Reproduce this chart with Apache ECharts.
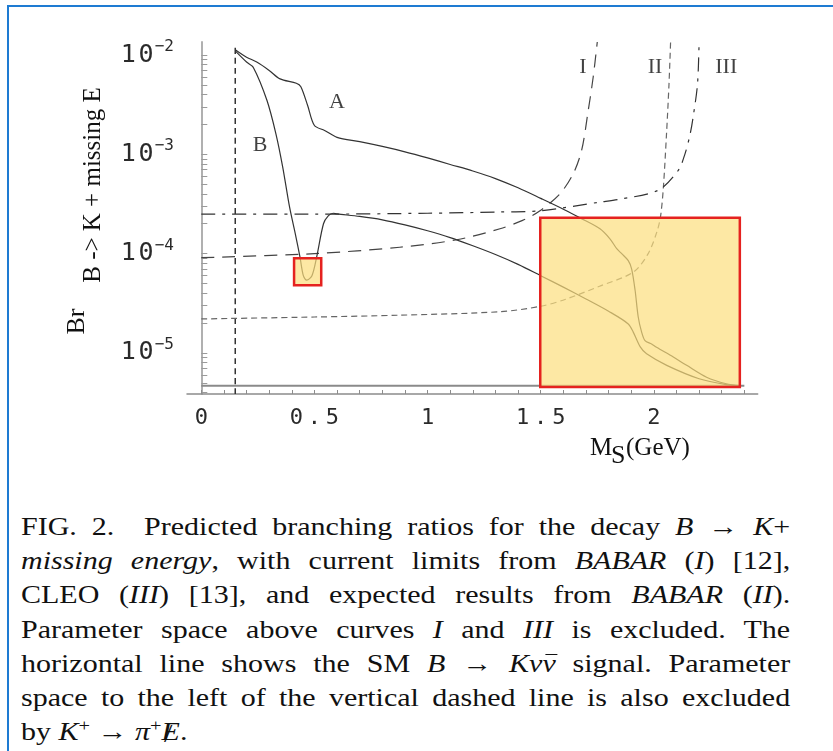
<!DOCTYPE html>
<html>
<head>
<meta charset="utf-8">
<title>B → K + missing E</title>
<script src="https://cdn.jsdelivr.net/npm/echarts@6/dist/echarts.min.js"></script>
<style>
  html, body { margin: 0; padding: 0; background: #fff; }
  #page { position: relative; width: 833px; height: 751px; overflow: hidden; }
  #frame { position: absolute; left: 7px; top: 5px; right: -10px; bottom: -10px;
    border-top: 2.5px solid #1e7bd2; border-left: 2.5px solid #1e7bd2; }
  #chart { position: absolute; left: 0; top: 0; width: 833px; height: 490px; }
  /* the printed caption font is wider than Times, so stretch it */
  #caption { position: absolute; left: 21px; top: 510px; width: 641px;
    transform: scaleX(1.2); transform-origin: 0 0;
    font-family: "Liberation Serif", "DejaVu Serif", serif; font-size: 25px;
    line-height: 34.2px; color: #111; }
  #caption div { text-align: justify; text-align-last: justify; }
  #caption div.last { text-align: left; text-align-last: left; }
  #caption sup { font-size: 17px; line-height: 0; }
  .slash { position: relative; }
  .slash b { position: absolute; left: 2px; top: -1px; font-weight: normal; font-style: normal; }
  .bar { display: inline-block; position: relative; }
  .bar i { position: absolute; left: 3px; right: -1px; top: 7px; height: 0;
    border-top: 1.4px solid #111; }
</style>
</head>
<body>
<div id="page">
  <div id="frame"></div>
  <div id="chart"></div>
  <div id="caption">
    <div>FIG. 2.&nbsp; Predicted branching ratios for the decay <i>B</i> → <i>K</i>+</div>
    <div><i>missing energy</i>, with current limits from <i>BABAR</i> (<i>I</i>) [12],</div>
    <div>CLEO (<i>III</i>) [13], and expected results from <i>BABAR</i> (<i>II</i>).</div>
    <div>Parameter space above curves <i>I</i> and <i>III</i> is excluded. The</div>
    <div>horizontal line shows the SM <i>B</i> → <i>Kν<span class="bar">ν<i></i></span></i> signal. Parameter</div>
    <div>space to the left of the vertical dashed line is also excluded</div>
    <div class="last">by <i>K</i><sup>+</sup> → <i>π</i><sup>+</sup><span class="slash"><i>E</i><b>/</b></span>.</div>
  </div>
</div>
<script>
// axis ranges (M_S in GeV, branching ratio on log scale)
const xMin = -0.0632, xMax = 2.459;
const yMin = 3.86e-6, yMax = 1.352e-2;

const xLabelValues = [0, 0.5, 1, 1.5, 2];
const xTickValues = [0, 0.1, 0.2, 0.3, 0.4, 0.5, 0.6, 0.7, 0.8, 0.9, 1, 1.1, 1.2,
  1.3, 1.4, 1.5, 1.6, 1.7, 1.8, 1.9, 2, 2.1, 2.2, 2.3, 2.4];
const yLabelValues = [1e-5, 1e-4, 1e-3, 1e-2];
const yTickValues = [4e-6, 5e-6, 6e-6, 7e-6, 8e-6, 9e-6,
  1e-5, 2e-5, 3e-5, 4e-5, 5e-5, 6e-5, 7e-5, 8e-5, 9e-5,
  1e-4, 2e-4, 3e-4, 4e-4, 5e-4, 6e-4, 7e-4, 8e-4, 9e-4,
  1e-3, 2e-3, 3e-3, 4e-3, 5e-3, 6e-3, 7e-3, 8e-3, 9e-3, 1e-2];

// predicted branching ratios
const curveA = [[0.15, 1.13e-2], [0.2, 9.5e-3], [0.245, 8.5e-3], [0.3, 7.0e-3], [0.348, 5.75e-3],
  [0.42, 5.2e-3], [0.44, 4.8e-3], [0.47, 3.1e-3], [0.5, 1.95e-3], [0.545, 1.74e-3],
  [0.6, 1.48e-3], [0.7, 1.34e-3], [0.8, 1.2e-3], [0.9, 1.06e-3], [1.0, 9.2e-4],
  [1.1, 7.9e-4], [1.2, 6.8e-4], [1.3, 5.7e-4], [1.4, 4.6e-4], [1.5, 3.6e-4],
  [1.6, 2.8e-4], [1.674, 2.29e-4], [1.762, 1.78e-4], [1.806, 1.41e-4], [1.836, 1.12e-4],
  [1.858, 1.0e-4], [1.887, 8.5e-5], [1.902, 7.0e-5], [1.917, 4.3e-5], [1.931, 2.3e-5],
  [1.946, 1.62e-5], [1.961, 1.33e-5], [1.99, 1.23e-5], [2.012, 1.14e-5], [2.086, 9.1e-6],
  [2.145, 7.5e-6], [2.233, 5.7e-6], [2.32, 4.9e-6], [2.38, 4.68e-6]];
const curveB = [[0.15, 1.1e-2], [0.2, 8.5e-3], [0.23, 7.5e-3], [0.29, 3.5e-3], [0.33, 1.6e-3],
  [0.36, 7.4e-4], [0.39, 2.95e-4], [0.415, 1.6e-4], [0.436, 9.3e-5], [0.451, 6.0e-5],
  [0.466, 5.4e-5], [0.489, 6.0e-5], [0.51, 9.3e-5], [0.54, 2.0e-4], [0.561, 2.4e-4],
  [0.583, 2.55e-4], [0.6, 2.51e-4], [0.7, 2.37e-4], [0.8, 2.19e-4], [0.9, 1.95e-4],
  [1.0, 1.7e-4], [1.1, 1.45e-4], [1.2, 1.2e-4], [1.3, 9.8e-5], [1.4, 7.8e-5],
  [1.5, 6.0e-5], [1.6, 4.6e-5], [1.7, 3.5e-5], [1.8, 2.63e-5], [1.887, 1.96e-5],
  [1.909, 1.62e-5], [1.94, 1.15e-5], [1.968, 9.8e-6], [2.057, 7.5e-6], [2.2, 5.5e-6],
  [2.32, 4.8e-6], [2.38, 4.68e-6]];

// experimental limits
const limitI = [[0, 9.1e-5], [0.5, 1.0e-4], [0.877, 1.16e-4], [1.129, 1.38e-4], [1.32, 1.78e-4],
  [1.42, 2.16e-4], [1.497, 2.7e-4], [1.585, 4.0e-4], [1.644, 6.4e-4], [1.681, 1.1e-3],
  [1.71, 2.76e-3], [1.732, 6.0e-3], [1.75, 1.352e-2]];
const limitII = [[0, 2.2e-5], [0.5, 2.3e-5], [0.88, 2.4e-5], [1.32, 2.6e-5], [1.5, 2.95e-5],
  [1.61, 3.47e-5], [1.76, 4.7e-5], [1.909, 6.5e-5], [1.975, 1.0e-4], [2.015, 1.7e-4],
  [2.03, 2.4e-4], [2.042, 4.6e-4], [2.056, 1.6e-3], [2.067, 5.1e-3], [2.074, 1.352e-2]];
const limitIII = [[0, 2.5e-4], [0.5, 2.5e-4], [1.0, 2.55e-4], [1.32, 2.63e-4], [1.5, 2.7e-4],
  [1.76, 3.3e-4], [1.84, 3.5e-4], [2.02, 4.35e-4], [2.108, 6.9e-4], [2.137, 1.0e-3],
  [2.16, 1.58e-3], [2.174, 2.4e-3], [2.193, 5.1e-3], [2.2, 1.352e-2]];
const smSignal = [[0, 4.68e-6], [2.4, 4.68e-6]];
const kaonCut = [[0.15, yMin], [0.15, 1.25e-2]];

const curveLabels = [['A', 0.6, 3.33e-3], ['B', 0.26, 1.23e-3],
  ['I', 1.686, 7.5e-3], ['II', 2.005, 7.5e-3], ['III', 2.32, 7.5e-3]];
// highlighted regions
const bigBox = [[1.498, 4.55e-6], [2.38, 2.3e-4]];
const smallBox = [[0.41, 4.8e-5], [0.53, 9.0e-5]];

const serif = '"Liberation Serif", "DejaVu Serif", serif';
const mono = '"DejaVu Sans Mono", monospace';

const chart = echarts.init(document.getElementById('chart'));

const lineSeries = (data, color, width, dash) => ({
  type: 'line',
  data: data,
  showSymbol: false,
  smooth: 0.3,
  silent: true,
  animation: false,
  lineStyle: { color: color, width: width, type: dash || 'solid' },
});

// plain text placed on the page (axis titles)
const pageText = (text, x, y, size, rot) => ({
  type: 'text', x: x, y: y, rotation: rot || 0,
  style: { text: text, font: size + 'px ' + serif, fill: '#111',
    align: rot ? 'center' : 'left', verticalAlign: 'middle',
    textAlign: rot ? 'center' : 'left', textVerticalAlign: 'middle' },
});

const option = {
  animation: false,
  grid: { left: 187, top: 42, right: 75.3, bottom: 96 },
  xAxis: {
    type: 'value',
    min: xMin,
    max: xMax,
    splitLine: { show: false },
    axisLine: { onZero: false, lineStyle: { color: '#8c8c8c', width: 1.5 } },
    axisTick: { inside: true, length: 4, customValues: xTickValues,
      lineStyle: { color: '#8c8c8c', width: 1 } },
    axisLabel: {
      customValues: xLabelValues,
      margin: 13,
      formatter: (v) => String(v).split('').map((c) => '{c|' + c + '}').join(''),
      rich: { c: { fontFamily: mono, fontSize: 22, color: '#2a2a2a', padding: [0, 2.4], lineHeight: 22 } },
    },
  },
  yAxis: {
    type: 'log',
    min: yMin,
    max: yMax,
    splitLine: { show: false },
    axisLine: { lineStyle: { color: '#b0b0b0', width: 2 } },
    axisTick: { inside: true, length: 6, customValues: yTickValues,
      lineStyle: { color: '#9a9a9a', width: 1 } },
    axisLabel: {
      customValues: yLabelValues,
      margin: 13,
      formatter: (v) => {
        const e = Math.round(Math.log10(v));
        return '{b|1}{b|0}{s|−' + Math.abs(e) + '}';
      },
      rich: {
        b: { fontFamily: mono, fontSize: 25, color: '#2a2a2a', padding: [0, 1.3], lineHeight: 32, verticalAlign: 'middle' },
        s: { fontFamily: mono, fontSize: 16, color: '#2a2a2a', lineHeight: 18, verticalAlign: 'top' },
      },
    },
  },
  graphic: [
    pageText('Br', 77, 321.5, 26, Math.PI / 2),
    pageText('B -> K + missing E', 93, 185, 25, Math.PI / 2),
    pageText('M', 590, 448.3, 25),
    pageText('S', 611, 455.7, 26),
    pageText('(GeV)', 626, 448.3, 25),
  ],
  series: [
    lineSeries(smSignal, '#8a8a8a', 2),
    lineSeries(kaonCut, '#333', 1.5, [6, 4]),
    lineSeries(limitII, '#666', 1.2, [6, 4]),
    lineSeries(limitI, '#444', 1.2, [13, 8]),
    lineSeries(limitIII, '#333', 1.2, [14, 7, 3, 7]),
    lineSeries(curveA, '#333', 1.2),
    lineSeries(curveB, '#333', 1.2),
    {
      type: 'scatter',
      silent: true,
      symbolSize: 0,
      data: curveLabels.map((d) => ({ name: d[0], value: [d[1], d[2]] })),
      label: {
        show: true,
        position: 'inside',
        formatter: (p) => p.name,
        fontFamily: serif,
        fontSize: 22,
        color: '#111',
      },
    },
    {
      type: 'line',
      data: [],
      z: 10,
      silent: true,
      markArea: {
        silent: true,
        z: 10,
        itemStyle: { color: 'rgba(252, 222, 125, 0.7)', borderColor: '#e5221f', borderWidth: 2.5 },
        data: [
          [{ coord: bigBox[0] }, { coord: bigBox[1] }],
          [{ coord: smallBox[0] }, { coord: smallBox[1] }],
        ],
      },
    },
  ],
};

chart.setOption(option);
</script>
</body>
</html>
